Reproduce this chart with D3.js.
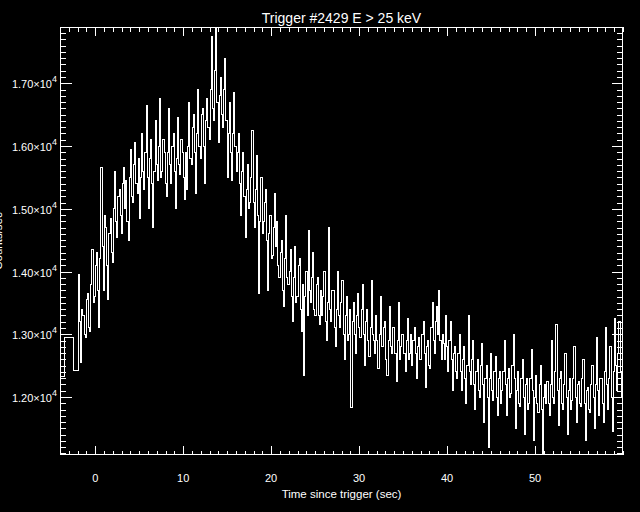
<!DOCTYPE html>
<html>
<head>
<meta charset="utf-8">
<script src="https://cdn.jsdelivr.net/npm/d3@7"></script>
<style>
  html, body { margin: 0; padding: 0; background: #000; }
  svg { display: block; }
  text { font-family: "Liberation Sans", Arial, sans-serif; fill: #fff; }
</style>
</head>
<body>
<svg id="chart" width="640" height="512"></svg>
<script>
// ---- data ----
const titleText = "Trigger #2429 E > 25 keV";
const xTitle = "Time since trigger (sec)";
const yTitle = "Counts/sec";
const xDomain = [-4, 60];
const yDomain = [11076, 17897];
const xMajorTicks = [0, 10, 20, 30, 40, 50];
const yMajorTicks = [12000, 13000, 14000, 15000, 16000, 17000];
const yTickLabels = ["1.20", "1.30", "1.40", "1.50", "1.60", "1.70"];
const yTickExp = "4";
// coarse pre-trigger bins
const coarseStarts = [-4.0, -3.5, -2.5];
const coarseValues = [12330, 12950, 12430];
// fine bins
const fineStart = -1.9;
const fineBinWidth = 0.128;
const fineValues = [
  13950,13200, 12550,13400, 13300,13000, 12950,13550, 13650,13100, 13050,13800, 14350,13500, 13600,14100,
  14300,13700, 13100,14200, 15650,14400, 13700,14900, 14700,14100, 13550,14600, 14850,14300, 14150,15000,
  15600,14800, 14550,15200, 15300,14900, 14600,15400, 15650,15000, 15450,14800, 14500,15500, 15950,15200,
  15100,15700, 16050,15400, 15250,15800, 14850,15500,
  16200,15600, 15300,15900, 16650,15500, 15000,15800, 16100,15400, 14700,15600, 16400,15700, 15450,16000,
  16750,15500, 15600,16100, 15900,15400, 15200,15900, 16600,15700, 15400,16000, 16200,15600, 15000,15800,
  16450,15700, 15550,16100, 15900,15500, 15150,15900,
  15300,16000, 16700,15800, 15700,16300, 16500,15900, 15250,16200, 16900,16000, 15800,16500, 16600,16000,
  15400,16400, 16750,16300, 16100,16900, 17750,16600, 16400,17200, 17897,16700, 16050,16800, 17100,16500,
  16300,16900, 17400,16400, 15500,16200, 16700,15900,
  15450,16200, 16850,16000, 15600,15900, 16200,15400, 14900,15600, 15900,15200, 14550,15300, 15700,15000,
  15100,15500, 16250,15100, 14700,15300, 15850,14900, 13650,14800, 15500,14600, 14800,15100, 15300,14500,
  13700,14600, 14900,14200, 14250,14700, 15250,14400,
  14800,14100, 13900,14300, 14500,13700, 13450,14200, 14900,13900, 13800,14000, 14350,13600, 13200,13900,
  14400,13500, 13600,14100, 14200,13400, 13050,13800, 12350,13600, 14000,13300, 14650,13700, 13500,13900,
  14300,13400, 13300,13800, 13900,13300, 13150,13700,
  13300,13600, 14000,13200, 12900,13500, 14700,13400, 13200,13700, 13700,13100, 12800,13400, 14000,13300,
  13100,13500, 13850,13000, 12600,13300, 13600,12900, 13000,13400, 11830,13200, 13500,13000, 12700,13300,
  13650,13100, 12950,13400, 13800,13000, 12500,13200,
  13400,12900, 12650,13100, 13850,13000, 12900,12700, 13300,12900, 12450,13000, 13600,12800, 12800,13100,
  13200,12600, 12350,12900, 13450,12800, 12700,13100, 13100,12700, 12250,12900, 13500,12600, 12800,13000,
  13000,12700, 12400,12900, 13250,12600, 12700,13000,
  12500,12900, 13100,12700, 12300,12800, 12950,12600, 12600,13000, 13200,12700, 12150,12800, 12900,12500,
  12450,13100, 13500,12900, 12700,13200, 13450,13000, 13700,12900, 12600,13000, 12850,12600, 13300,12800,
  12400,12900, 13200,12600, 12100,12700, 12800,12400,
  12300,12700, 13000,12400, 12100,12600, 12800,12300, 11900,12500, 13300,12400, 12200,12600, 12900,12200,
  11800,12400, 12600,12100, 12000,12500, 12850,12200, 11600,12300, 12500,12000, 11200,12300, 12700,12100,
  11950,12400, 12650,12000, 11700,12300, 12400,11900,
  12100,12400, 12900,12200, 11700,12300, 12450,12000, 12050,12500, 13000,12300, 11500,12100, 12400,11900,
  11850,12300, 12600,12000, 11400,12200, 12300,11800, 11900,12300, 12750,12100, 11300,12000, 12350,11900,
  11750,12200, 12500,11800, 11100,12000, 12200,11900,
  12250,11900, 11700,12200, 12900,12000, 11900,12400, 13150,12100, 11550,12300, 12400,11900, 11800,12200,
  12700,12000, 11400,12100, 12300,11800, 11950,12300, 12800,12000, 11600,12200, 12250,11900, 11850,12300,
  12600,11900, 11300,12100, 12150,11800, 11750,12200,
  12500,12000, 11500,12200, 12950,12100, 11700,12300, 12300,11900, 11600,12400, 13100,12200, 11800,12300,
  12800,12000, 11450,12400, 13250,12500, 12100,12700, 13200,12400, 12000,12600
];

// ---- layout ----
const L = 60, R = 623, T = 27, B = 455;
const svg = d3.select("#chart");
svg.append("rect").attr("width", 640).attr("height", 512).attr("fill", "#000");

const x = d3.scaleLinear().domain(xDomain).range([L, R]);
const y = d3.scaleLinear().domain(yDomain).range([B, T]);

// points for step line
const pts = [];
coarseStarts.forEach((t, i) => pts.push([t, coarseValues[i]]));
fineValues.forEach((v, i) => pts.push([fineStart + i * fineBinWidth, v]));
pts.push([fineStart + fineValues.length * fineBinWidth, fineValues[fineValues.length - 1]]);

svg.append("clipPath").attr("id", "clip")
  .append("rect").attr("x", L).attr("y", T).attr("width", R - L).attr("height", B - T);

const line = d3.line().x(d => x(d[0])).y(d => y(d[1])).curve(d3.curveStepAfter);
svg.append("path")
  .datum(pts)
  .attr("clip-path", "url(#clip)")
  .attr("d", line)
  .attr("fill", "none")
  .attr("stroke", "#fff")
  .attr("stroke-width", 1)
  .attr("shape-rendering", "crispEdges");

// ---- axes (frame + ticks) ----
const g = svg.append("g").attr("stroke", "#fff").attr("stroke-width", 1).attr("shape-rendering", "crispEdges");
g.append("rect").attr("x", L + 0.5).attr("y", T + 0.5).attr("width", R - L - 1).attr("height", B - T - 1).attr("fill", "none");

const xMinor = d3.range(xDomain[0], xDomain[1] + 0.001, 1).filter(v => !xMajorTicks.includes(v));
const yMinor = d3.range(11100, yDomain[1], 100).filter(v => !yMajorTicks.includes(v));

function xTick(v, len) {
  const px = Math.round(x(v)) + 0.5;
  g.append("line").attr("x1", px).attr("x2", px).attr("y1", B).attr("y2", B - len);
  g.append("line").attr("x1", px).attr("x2", px).attr("y1", T).attr("y2", T + len);
}
function yTick(v, len) {
  const py = Math.round(y(v)) + 0.5;
  g.append("line").attr("x1", L).attr("x2", L + len).attr("y1", py).attr("y2", py);
  g.append("line").attr("x1", R).attr("x2", R - len).attr("y1", py).attr("y2", py);
}
xMinor.forEach(v => xTick(v, 4.5));
xMajorTicks.forEach(v => xTick(v, 9));
yMinor.forEach(v => yTick(v, 6));
yMajorTicks.forEach(v => yTick(v, 11.5));

// ---- labels ----
xMajorTicks.forEach(v => {
  svg.append("text").attr("x", x(v)).attr("y", 482)
    .attr("text-anchor", "middle").attr("font-size", 11).text(String(v));
});
yMajorTicks.forEach((v, i) => {
  const t = svg.append("text").attr("x", 57).attr("y", y(v) + 5)
    .attr("text-anchor", "end").attr("font-size", 11);
  t.append("tspan").text(yTickLabels[i] + "\u00d710");
  t.append("tspan").attr("dy", -6).attr("font-size", 9).text(yTickExp);
});

svg.append("text").attr("x", (L + R) / 2).attr("y", 23)
  .attr("text-anchor", "middle").attr("font-size", 14).text(titleText);
svg.append("text").attr("x", (L + R) / 2).attr("y", 498)
  .attr("text-anchor", "middle").attr("font-size", 11.5).text(xTitle);
svg.append("text").attr("transform", `translate(2,${(T + B) / 2}) rotate(-90)`)
  .attr("text-anchor", "middle").attr("font-size", 11.5).text(yTitle);
</script>
</body>
</html>
